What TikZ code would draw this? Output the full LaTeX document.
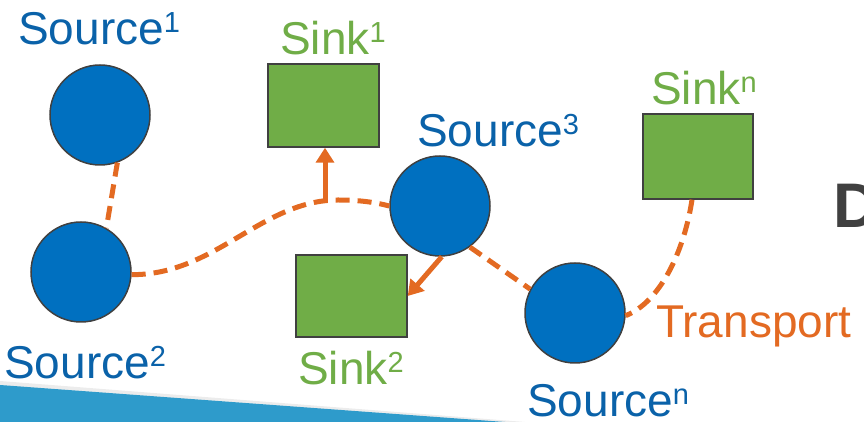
\documentclass[tikz,border=0pt]{standalone}
\usepackage{fontspec}
\setmainfont{Liberation Sans}
\usetikzlibrary{arrows.meta}
\definecolor{srcblue}{HTML}{0070C0}
\definecolor{lblblue}{HTML}{0A62A9}
\definecolor{sinkgreen}{HTML}{70AD47}
\definecolor{flow}{HTML}{E36A22}
\definecolor{edgegray}{HTML}{404040}
\definecolor{band}{HTML}{2E9BCB}
% small raised index after a label word
\newcommand\supx[1]{\raisebox{12pt}{\fontsize{29pt}{29pt}\selectfont #1}}
\begin{document}
\begin{tikzpicture}[x=1pt,y=1pt,
  source/.style={circle, fill=srcblue, draw=edgegray, line width=1.5pt,
                 minimum size=100pt, inner sep=0pt},
  sinkbox/.style={rectangle, fill=sinkgreen, draw=edgegray, line width=1.5pt,
                  minimum width=111pt, minimum height=83pt, inner sep=0pt},
  lbl/.style={anchor=base west, inner sep=0pt, font=\fontsize{46pt}{46pt}\selectfont},
  transport/.style={draw=flow, line width=5pt, dash pattern=on 14pt off 8pt},
  feed/.style={draw=flow, line width=5pt, -{Triangle[width=18pt,length=15pt]}}]
\useasboundingbox (0,0) rectangle (864,422);

% slanted band along the bottom
\fill[gray!15] (0,41) -- (525,0) -- (0,0) -- cycle;
\fill[band] (0,37) -- (505,0) -- (0,0) -- cycle;

% sources
\node[source] (s1) at (100,307) {};
\node[source] (s2) at (81,150) {};
\node[source] (s3) at (440,216) {};
\node[source] (sn) at (575,109) {};

% sinks
\node[sinkbox] (k1) at (323.5,316.5) {};
\node[sinkbox, minimum height=82pt] (k2) at (351.5,126) {};
\node[sinkbox, minimum width=110pt, minimum height=85pt] (kn) at (698,265.5) {};

% labels
\node[lbl, text=lblblue] (l1) at (18,377) {Source\supx{1}};
\node[lbl, text=lblblue] (l2) at (4,43) {Source\supx{2}};
\node[lbl, text=lblblue] (l3) at (417,275) {Source\supx{3}};
\node[lbl, text=lblblue] (ln) at (527,5) {Source\supx{n}};
\node[lbl, text=sinkgreen] (m1) at (280,367) {Sink\supx{1}};
\node[lbl, text=sinkgreen] (m2) at (298,37) {Sink\supx{2}};
\node[lbl, text=sinkgreen] (mn) at (651,317) {Sink\supx{n}};
\node[lbl, text=flow] (tr) at (656,84) {Transport};
\node[anchor=base west, inner sep=0pt, text=edgegray,
      font=\fontsize{63pt}{63pt}\selectfont\bfseries] (dd) at (833,194) {D};

% transport network
\draw[transport] (s1.-70) -- (s2.60);
\draw[transport] (s2.-3) .. controls (215,147) and (262,222) .. (338,222)
                 .. controls (362,222) and (378,219) .. (s3.180);
\draw[transport] (s3.-54) -- (sn.152);
\draw[transport] ([xshift=-6pt]kn.south) .. controls (684,170) and (660,120) .. (sn.-3);

% deliveries to sinks
\coordinate (j) at (325,219);
\draw[feed] (j) -- (j |- k1.south);
\draw[feed] (s3.-88) -- (k2.east);
\end{tikzpicture}
\end{document}
